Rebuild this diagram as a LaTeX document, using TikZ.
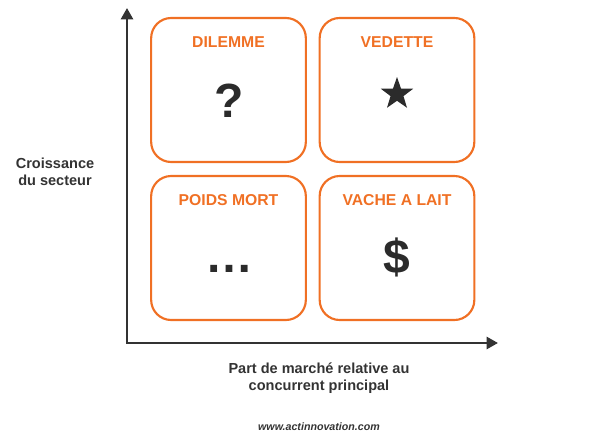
\documentclass[tikz,border=0pt]{standalone}
\usepackage{fontspec}
\setmainfont{Liberation Sans}
\usetikzlibrary{arrows.meta,positioning,shapes.geometric}
\definecolor{bcgorange}{HTML}{F07024}
\definecolor{inkgray}{HTML}{2B2B2B}
\definecolor{labelgray}{HTML}{333333}

\begin{document}
\begin{tikzpicture}[
  x=0.75pt, y=-0.75pt,
  font=\bfseries,
  quad/.style={
    draw=bcgorange, line width=1.6pt, rounded corners=15pt,
    minimum width=116pt, minimum height=108pt, inner sep=0pt
  },
  title/.style={text=bcgorange, font=\fontsize{11.8}{14}\selectfont\bfseries,
                inner sep=0pt},
  symb/.style={text=inkgray, font=\fontsize{36}{40}\selectfont\bfseries,
               inner sep=0pt},
  lbl/.style={text=labelgray, font=\fontsize{10.9}{13}\selectfont\bfseries,
              align=center},
  axis/.style={draw=labelgray, line width=1.9pt,
               {Triangle[length=8.5pt,width=9pt]}-{Triangle[length=8.5pt,width=9pt]}},
]
\useasboundingbox (0,0) rectangle (605,439);

% ---- axes ---------------------------------------------------------------
\coordinate (ytip) at (127,8);
\coordinate (xtip) at (498,343);
\draw[axis] (ytip) |- (xtip);

% ---- the four quadrants -------------------------------------------------
\node[quad] (dilemme) at (228.5, 90) {};
\node[quad] (vedette) at (397, 90)   {};
\node[quad] (poids)   at (228.5, 248) {};
\node[quad] (vache)   at (397, 248)  {};

\node[title, below=14.5pt of dilemme.north] (t-dilemme) {DILEMME};
\node[title, below=14.5pt of vedette.north] (t-vedette) {VEDETTE};
\node[title, below=14.5pt of poids.north]   (t-poids)   {POIDS MORT};
\node[title, below=14.5pt of vache.north]   (t-vache)   {VACHE A LAIT};

% ---- symbols ------------------------------------------------------------
\node[symb, anchor=base] (question) at (229, 117) {?};
\node[star, star points=5, star point ratio=2.5, fill=inkgray,
      minimum size=25.5pt, inner sep=0pt] (etoile) at (397, 94) {};
\node[symb, anchor=base] (ellipse) at (229, 272) {…};
\node[symb, anchor=base] (dollar)  at (397, 273) {\$};

% ---- axis labels --------------------------------------------------------
\node[lbl] (ylabel) at (55, 172) {Croissance\\du secteur};
\node[lbl] (xlabel) at (319, 378) {Part de marché relative au\\concurrent principal};
\node[text=labelgray, font=\fontsize{8}{10}\selectfont\bfseries\itshape]
  (site) at (319, 427) {www.actinnovation.com};

\end{tikzpicture}
\end{document}
